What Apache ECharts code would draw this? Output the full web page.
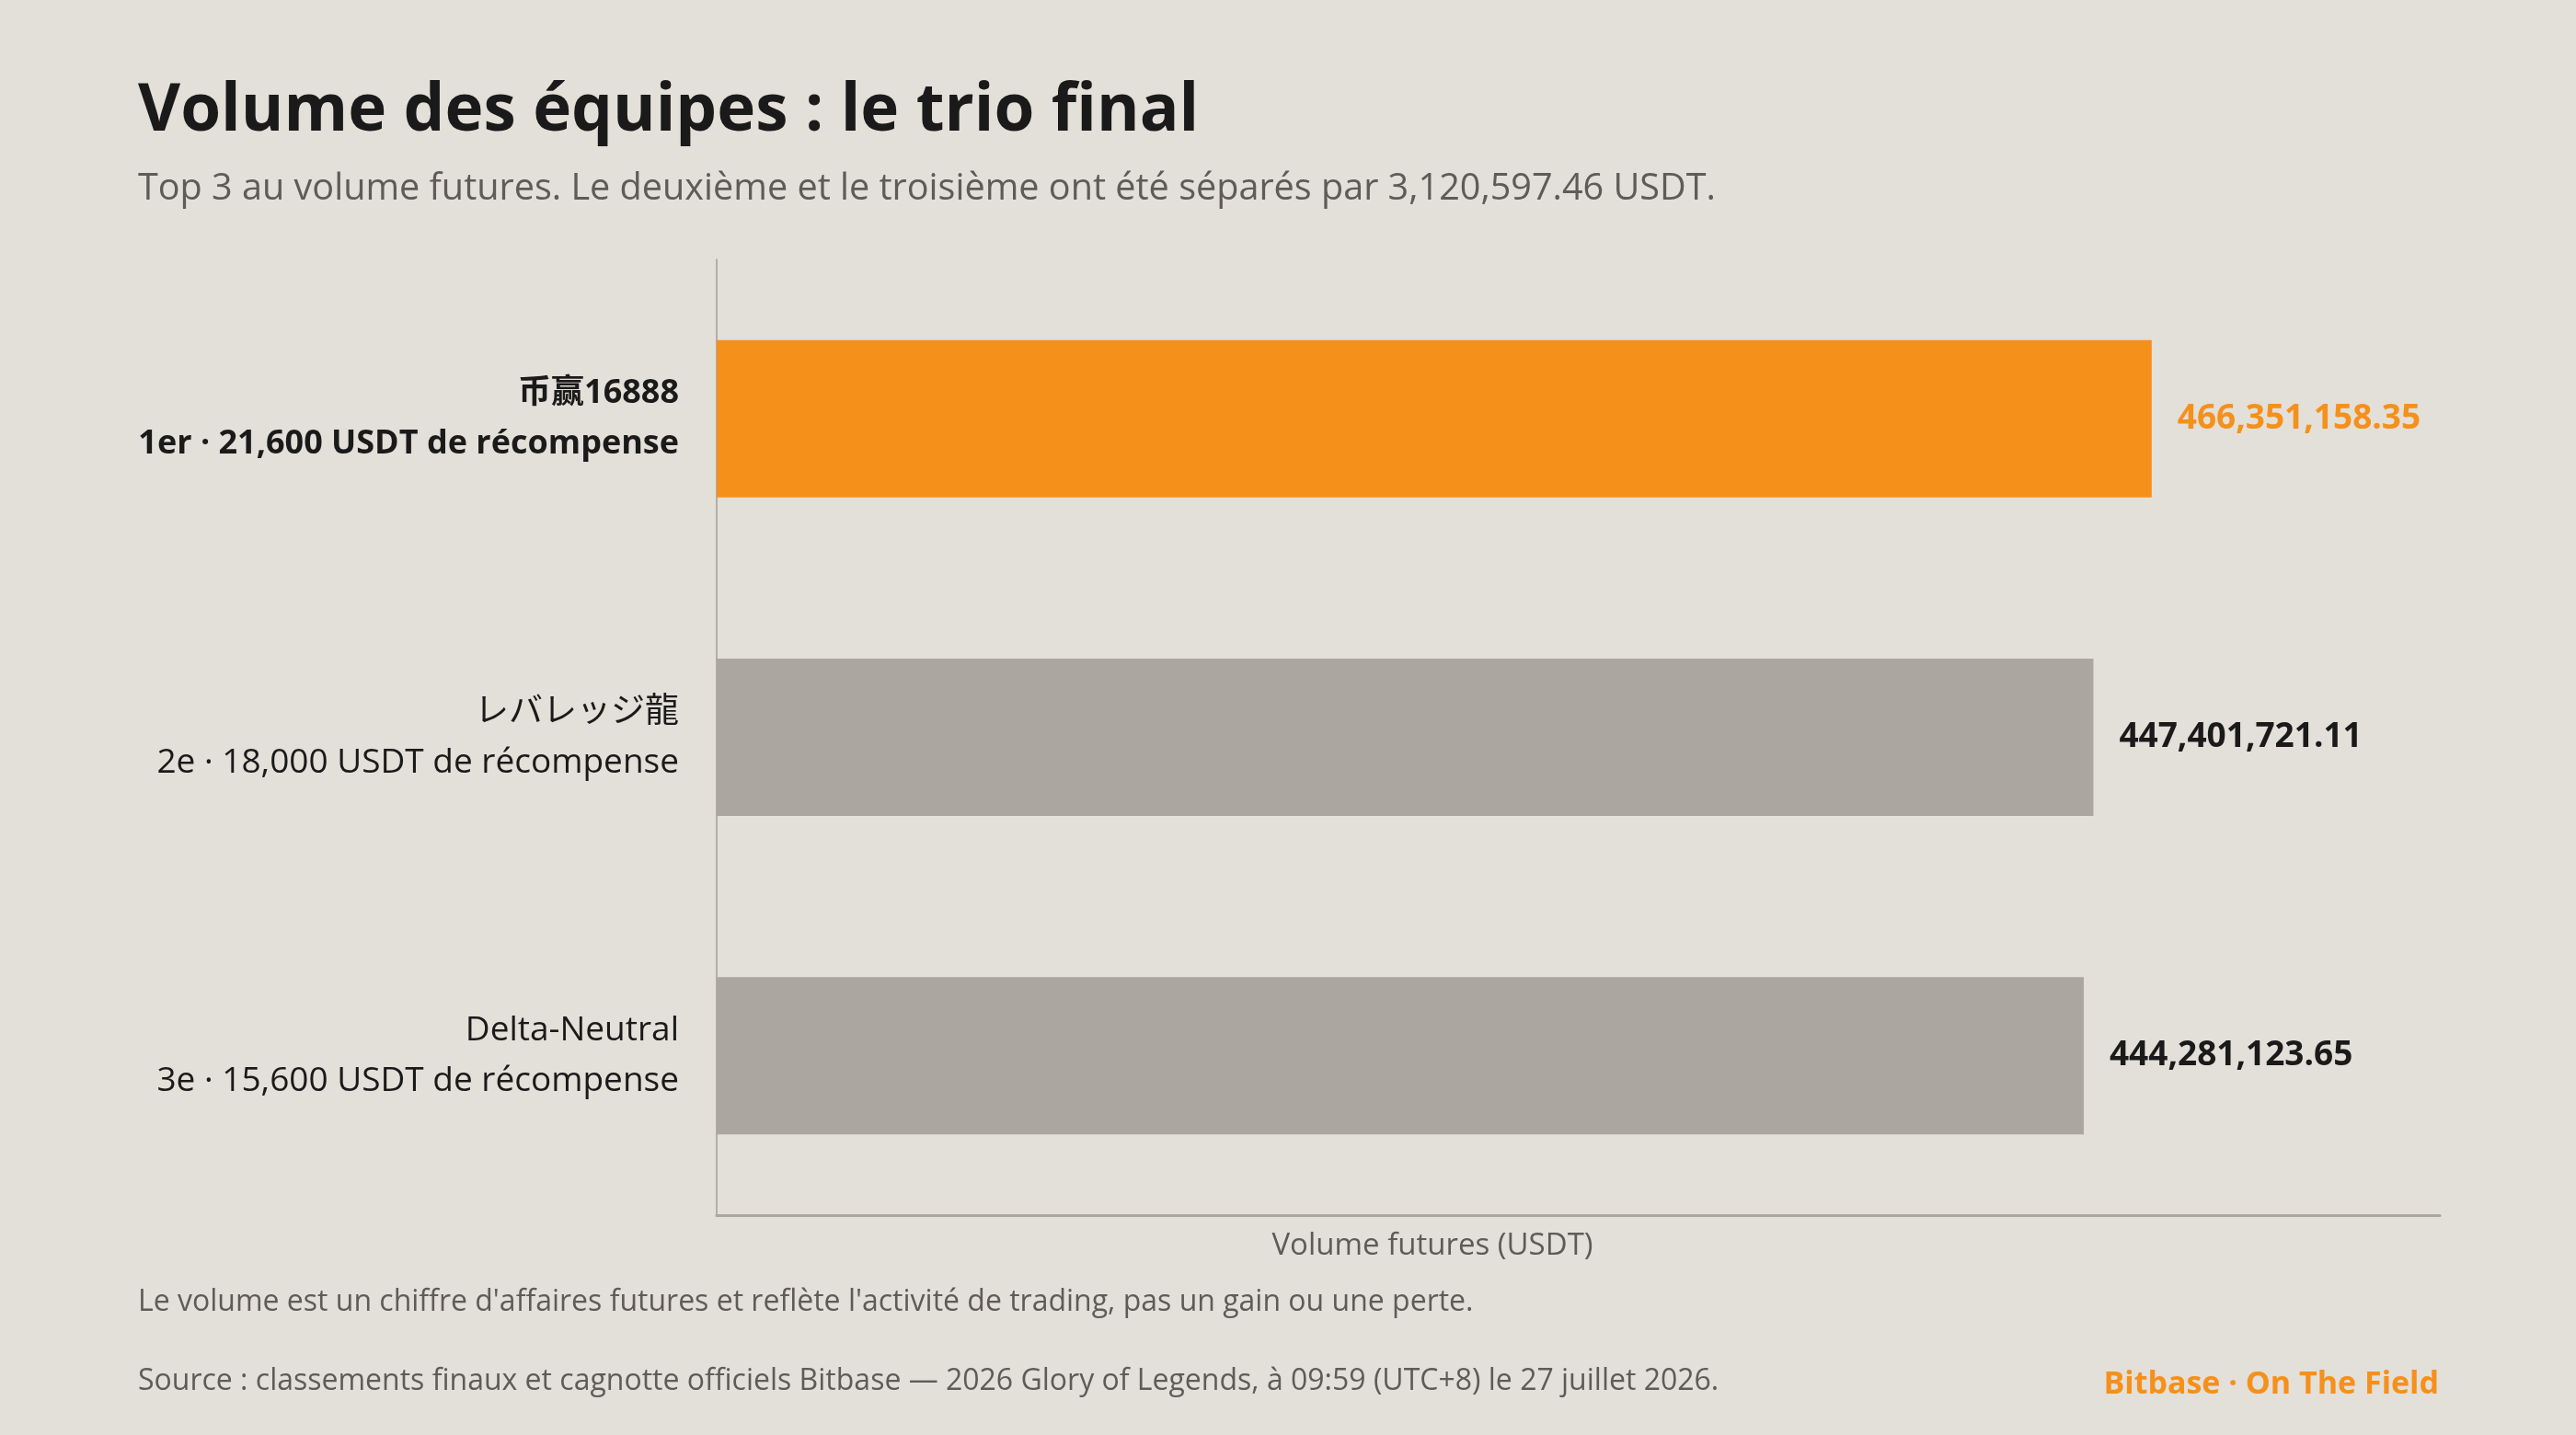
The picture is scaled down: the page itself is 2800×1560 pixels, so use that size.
<!DOCTYPE html>
<html>
<head>
<meta charset="utf-8">
<script src="https://cdn.jsdelivr.net/npm/echarts@6/dist/echarts.min.js"></script>
<style>
html,body{margin:0;padding:0;background:#e3dfd9;}
#chart{width:2800px;height:1560px;}
</style>
</head>
<body>
<div id="chart"></div>
<script>
const teams = ['币赢16888', 'レバレッジ龍', 'Delta-Neutral'];
const ranks = ['1er · 21,600 USDT de récompense', '2e · 18,000 USDT de récompense', '3e · 15,600 USDT de récompense'];
const volumes = [466351158.35, 447401721.11, 444281123.65];
const xMax = 560000000;

const FONT = '"Open Sans", "Noto Sans CJK JP", "Noto Sans CJK SC", sans-serif';
const ORANGE = '#f5901a';
const GREY = '#aba69f';
const DARK = '#1a1a1a';
const MUTED = '#5f5b57';

const fmt = v => v.toLocaleString('en-US', {minimumFractionDigits: 2, maximumFractionDigits: 2});

const chart = echarts.init(document.getElementById('chart'));
chart.setOption({
  backgroundColor: '#e3dfd9',
  textStyle: {fontFamily: FONT},
  title: [
    {text: 'Volume des équipes : le trio final', left: 145, top: 81,
     textStyle: {fontFamily: FONT, fontSize: 71, fontWeight: 'bold', color: DARK}},
    {text: 'Top 3 au volume futures. Le deuxième et le troisième ont été séparés par 3,120,597.46 USDT.',
     left: 145, top: 181, textStyle: {fontFamily: FONT, fontSize: 39.6, fontWeight: 'normal', color: MUTED}}
  ],
  grid: {left: 779, right: 148, top: 282, bottom: 239, containLabel: false},
  xAxis: {
    type: 'value', min: 0, max: xMax,
    axisLine: {show: true, lineStyle: {color: GREY, width: 3}},
    axisTick: {show: false}, axisLabel: {show: false}, splitLine: {show: false}
  },
  yAxis: {
    type: 'category', inverse: true, data: teams,
    axisLine: {show: true, lineStyle: {color: '#a29d96', width: 1.5}},
    axisTick: {show: false}, splitLine: {show: false},
    axisLabel: {
      margin: 41, align: 'right', lineHeight: 55,
      formatter: (v, i) => i === 0 ? '{b|' + v + '}\n{b|' + ranks[i] + '}' : '{r|' + v + '}\n{r|' + ranks[i] + '}',
      rich: {
        b: {fontFamily: FONT, fontSize: 36, fontWeight: 'bold', color: DARK, lineHeight: 55, align: 'right'},
        r: {fontFamily: FONT, fontSize: 37, fontWeight: 'normal', color: DARK, lineHeight: 55, align: 'right'}
      }
    }
  },
  series: [{
    type: 'bar', barWidth: 171,
    data: volumes.map((v, i) => ({value: v, itemStyle: {color: i === 0 ? ORANGE : GREY},
      label: {color: i === 0 ? ORANGE : DARK}})),
    label: {show: true, position: 'right', distance: 28, fontFamily: FONT, fontSize: 37, fontWeight: 'bold',
      formatter: p => fmt(p.value)},
    silent: true
  }],
  graphic: [
    {type: 'text', x: 1557, y: 1355, style: {text: 'Volume futures (USDT)', font: '33px ' + FONT, fill: MUTED, align: 'center', verticalAlign: 'middle'}},
    {type: 'text', x: 150, y: 1416, style: {text: "Le volume est un chiffre d'affaires futures et reflète l'activité de trading, pas un gain ou une perte.", font: '32px ' + FONT, fill: MUTED, verticalAlign: 'middle'}},
    {type: 'text', x: 150, y: 1502, style: {text: 'Source : classements finaux et cagnotte officiels Bitbase — 2026 Glory of Legends, à 09:59 (UTC+8) le 27 juillet 2026.', font: '32px ' + FONT, fill: MUTED, verticalAlign: 'middle'}},
    {type: 'text', x: 2651, y: 1505, style: {text: 'Bitbase · On The Field', font: 'bold 34px ' + FONT, fill: ORANGE, align: 'right', verticalAlign: 'middle'}}
  ]
});
</script>
</body>
</html>
